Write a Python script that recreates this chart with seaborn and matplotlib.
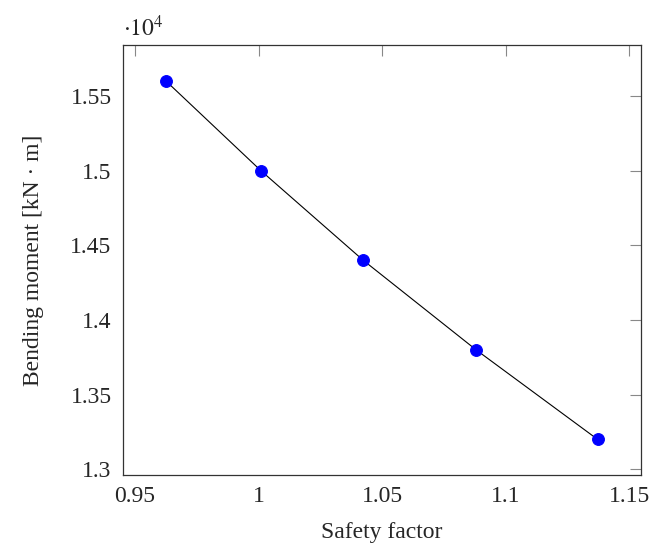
import numpy as np
import pandas as pd
import matplotlib
matplotlib.use('Agg')
import matplotlib.pyplot as plt
from matplotlib.ticker import FuncFormatter
import seaborn as sns

# values
safety_factor = [0.9625, 1.0009, 1.0423, 1.088, 1.1372]
bending_moment = [15600, 15000, 14400, 13800, 13200]
x_ticks = [0.95, 1.0, 1.05, 1.1, 1.15]
y_ticks = [13000, 13500, 14000, 14500, 15000, 15500]

df = pd.DataFrame({'Safety factor': safety_factor, 'Bending moment': bending_moment})

sns.set_style('white')
plt.rcParams['font.family'] = ['Liberation Serif', 'DejaVu Serif']
plt.rcParams['mathtext.fontset'] = 'stix'

fs = 17

fig, ax = plt.subplots(figsize=(6.5, 5.47), dpi=100)
fig.subplots_adjust(left=0.1888, right=0.9857, top=0.9177, bottom=0.1316)

sns.lineplot(data=df, x='Safety factor', y='Bending moment', ax=ax,
             color='black', linewidth=0.8, marker='o', markersize=8.5,
             markerfacecolor='blue', markeredgecolor='blue')

ax.set_xlim(0.9450, 1.1546)
ax.set_ylim(12962, 15841)
ax.set_xticks(x_ticks)
ax.set_yticks(y_ticks)
ax.xaxis.set_major_formatter(FuncFormatter(lambda v, p: f'{v:g}'))
ax.yaxis.set_major_formatter(FuncFormatter(lambda v, p: f'{v / 1e4:g}'))

ax.tick_params(direction='in', length=8, width=0.8, color='#888888',
               top=True, right=True, labelsize=fs)
ax.tick_params(axis='y', pad=8)
ax.tick_params(axis='x', pad=8)
for s in ax.spines.values():
    s.set_color('#333333')
    s.set_linewidth(0.9)

ax.set_xlabel('Safety factor', fontsize=fs, labelpad=11)
ax.set_ylabel('Bending moment [kN · m]', fontsize=fs, labelpad=19)
ax.text(0.0, 1.008, r'$\cdot10^4$', transform=ax.transAxes,
        fontsize=fs, ha='left', va='bottom')

fig.savefig('out.png', dpi=100)
plt.close(fig)
